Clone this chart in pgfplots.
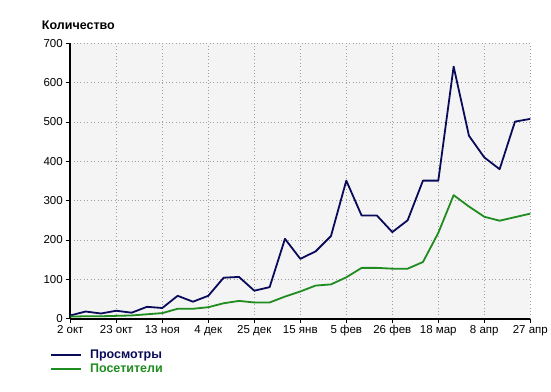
\documentclass[border=0pt]{standalone}
\usepackage{pgfplots}
\pgfplotsset{compat=1.18}
\usepackage{fontspec}
\setmainfont{Liberation Sans}
\definecolor{navy}{RGB}{10,10,90}
\definecolor{grn}{RGB}{30,140,30}
\definecolor{bg}{RGB}{244,244,244}
\begin{document}
\begin{tikzpicture}
\useasboundingbox (0,0) rectangle (551pt,391pt);
\begin{axis}[
  at={(70.3pt,72.4pt)}, anchor=south west,
  scale only axis, width=460pt, height=275.2pt,
  xmin=0, xmax=30, ymin=0, ymax=700,
  axis x line*=bottom, axis y line*=left,
  axis line style={-, line width=2pt, black},
  axis background/.style={fill=bg},
  xtick={0,3,...,30},
  xticklabels={2 окт,23 окт,13 ноя,4 дек,25 дек,15 янв,5 фев,26 фев,18 мар,8 апр,27 апр},
  ytick={0,100,...,700},
  tick align=outside, major tick length=4pt,
  tick style={black, line width=0.9pt},
  xmajorgrids, ymajorgrids,
  major grid style={dash pattern=on 0.8pt off 2.6pt, gray!75, line width=0.6pt},
  /pgf/number format/assume math mode=true,
  tick label style={font=\fontsize{11.5}{13}\selectfont},
  xticklabel style={yshift=1pt},
  legend style={at={(axis description cs:-0.044,-0.105)}, anchor=north west,
    draw=none, fill=none, inner sep=0pt, row sep=0pt,
    font=\fontsize{12.5}{13}\selectfont\bfseries},
  legend cell align=left,
  legend image code/.code={\draw[#1, line width=1.8pt] (0pt,0pt) -- (30pt,0pt);},
  clip=false,
]
\addplot[navy, line width=1.8pt, line join=round] coordinates {
(0,8) (1,18) (2,13) (3,20) (4,15) (5,30) (6,27) (7,58) (8,43) (9,58)
(10,104) (11,106) (12,71) (13,80) (14,203) (15,152) (16,171) (17,210) (18,351) (19,262)
(20,262) (21,220) (22,250) (23,351) (24,351) (25,641) (26,465) (27,410) (28,380) (29,501)
(30,508)};
\addlegendentry{\hspace{6pt}\textcolor{navy}{Просмотры}}
\addplot[grn, line width=1.8pt, line join=round] coordinates {
(0,5) (1,6) (2,6) (3,7) (4,8) (5,11) (6,14) (7,25) (8,25) (9,29)
(10,39) (11,45) (12,41) (13,41) (14,56) (15,69) (16,84) (17,87) (18,105) (19,129)
(20,129) (21,127) (22,127) (23,144) (24,218) (25,314) (26,285) (27,259) (28,249) (29,258)
(30,267)};
\addlegendentry{\hspace{6pt}\textcolor{grn}{Посетители}}
\node[anchor=base west, font=\fontsize{12.5}{14}\selectfont\bfseries, inner sep=0pt]
  at (rel axis cs:-0.062,1.0487) {Количество};
\end{axis}
\end{tikzpicture}
\end{document}
